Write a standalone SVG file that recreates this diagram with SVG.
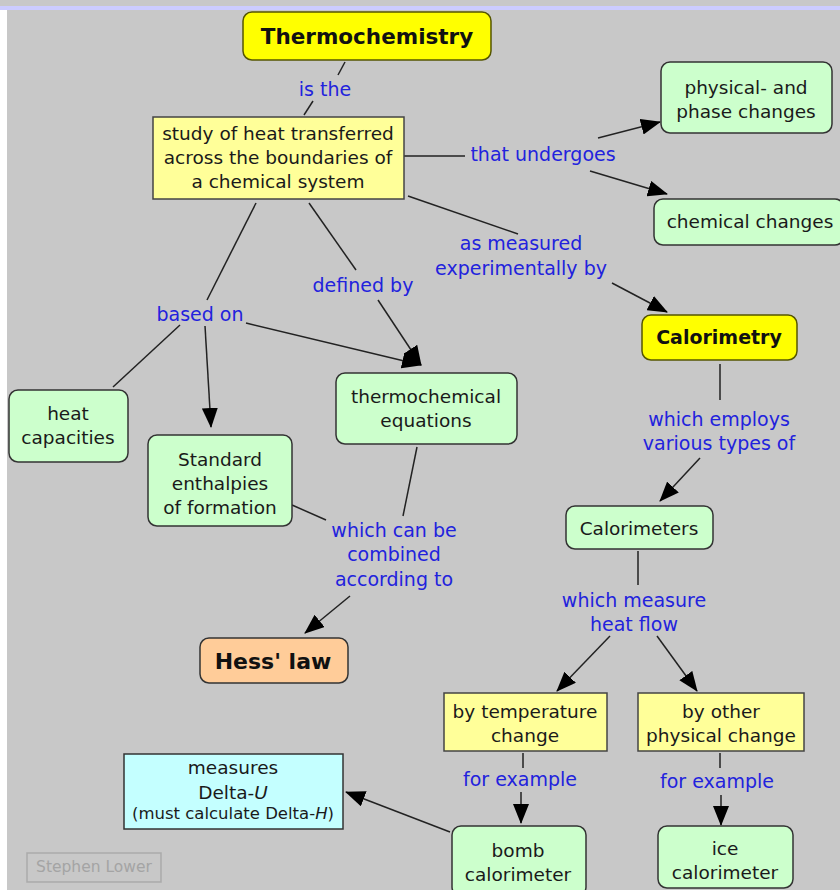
<svg xmlns="http://www.w3.org/2000/svg" width="840" height="890" viewBox="0 0 840 890">
<style>
text{font-family:"DejaVu Sans",Verdana,sans-serif;text-anchor:middle;dominant-baseline:central}
.n{font-size:18.5px;fill:#1a1a1a}
.b{font-size:21.5px;font-weight:bold;fill:#111}
.l{font-size:19px;fill:#2222dd}
.g{fill:#ccffcc;stroke:#333;stroke-width:1.5}
.y{fill:#ffff00;stroke:#555500;stroke-width:1.5}
.p{fill:#ffff99;stroke:#444;stroke-width:1.5}
.c line{stroke:#222;stroke-width:1.5}
.a{marker-end:url(#ah)}
</style>
<defs>
<marker id="ah" markerUnits="userSpaceOnUse" markerWidth="20" markerHeight="16" viewBox="0 0 20 16" refX="19" refY="8" orient="auto">
<path d="M0,0 L20,8 L0,16 z" fill="#000"/>
</marker>
</defs>
<rect x="0" y="0" width="840" height="890" fill="#c8c8c8"/>
<rect x="0" y="6" width="840" height="4" fill="#ccccff"/>
<rect x="0" y="10" width="7" height="880" fill="#ffffff"/>

<g class="c">
<line x1="345" y1="62" x2="338" y2="75"/>
<line x1="313" y1="101" x2="304" y2="115"/>
<line x1="404" y1="156" x2="465" y2="156"/>
<line class="a" x1="598" y1="138" x2="660" y2="122"/>
<line class="a" x1="590" y1="171" x2="667" y2="194"/>
<line x1="408" y1="196" x2="518" y2="234"/>
<line class="a" x1="612" y1="283" x2="667" y2="312"/>
<line x1="720" y1="364" x2="720" y2="400"/>
<line class="a" x1="700" y1="458" x2="660" y2="501"/>
<line x1="638" y1="551" x2="638" y2="585"/>
<line class="a" x1="610" y1="636" x2="557" y2="691"/>
<line class="a" x1="657" y1="636" x2="697" y2="691"/>
<line x1="523" y1="753" x2="523" y2="768"/>
<line class="a" x1="521" y1="792" x2="521" y2="823"/>
<line x1="720" y1="753" x2="720" y2="768"/>
<line class="a" x1="721" y1="795" x2="721" y2="825"/>
<line class="a" x1="450" y1="832" x2="346" y2="792"/>
<line x1="256" y1="203" x2="207" y2="300"/>
<line class="a" x1="205" y1="326" x2="211" y2="427"/>
<line x1="180" y1="325" x2="113" y2="387"/>
<line class="a" x1="246" y1="323" x2="421" y2="365"/>
<line x1="309" y1="203" x2="356" y2="270"/>
<line class="a" x1="378" y1="300" x2="421" y2="365"/>
<line x1="417" y1="447" x2="403" y2="516"/>
<line x1="292" y1="505" x2="326" y2="520"/>
<line class="a" x1="350" y1="596" x2="305" y2="633"/>
</g>

<g id="lbl-isthe"><text class="l" x="325" y="89">is the</text></g>
<g id="lbl-undergoes"><text class="l" x="543" y="154">that undergoes</text></g>
<g id="lbl-measured"><text class="l" x="521" y="243">as measured</text><text class="l" x="521" y="268">experimentally by</text></g>
<g id="lbl-employs"><text class="l" x="719" y="419">which employs</text><text class="l" x="719" y="443">various types of</text></g>
<g id="lbl-heatflow"><text class="l" x="634" y="600">which measure</text><text class="l" x="634" y="624">heat flow</text></g>
<g id="lbl-ex1"><text class="l" x="520" y="779">for example</text></g>
<g id="lbl-ex2"><text class="l" x="717" y="781">for example</text></g>
<g id="lbl-based"><text class="l" x="200" y="314">based on</text></g>
<g id="lbl-defined"><text class="l" x="363" y="285">defined by</text></g>
<g id="lbl-combined"><text class="l" x="394" y="530">which can be</text><text class="l" x="394" y="554">combined</text><text class="l" x="394" y="579">according to</text></g>

<g id="thermochemistry"><rect class="y" x="243" y="12" width="248" height="48" rx="9"/><text class="b" x="367" y="36">Thermochemistry</text></g>
<g id="study"><rect class="p" x="153" y="117" width="251" height="82"/><text class="n" x="278" y="133">study of heat transferred</text><text class="n" x="278" y="157">across the boundaries of</text><text class="n" x="278" y="181">a chemical system</text></g>
<g id="physical"><rect class="g" x="661" y="62" width="171" height="71" rx="9"/><text class="n" x="746" y="87">physical- and</text><text class="n" x="746" y="111">phase changes</text></g>
<g id="chemical"><rect class="g" x="654" y="199" width="190" height="46" rx="9"/><text class="n" x="750" y="221">chemical changes</text></g>
<g id="calorimetry"><rect class="y" x="642" y="315" width="155" height="45" rx="9"/><text class="b" x="719" y="337" style="font-size:19px">Calorimetry</text></g>
<g id="calorimeters"><rect class="g" x="566" y="506" width="147" height="43" rx="9"/><text class="n" x="639" y="528">Calorimeters</text></g>
<g id="bytemp"><rect class="p" x="444" y="693" width="163" height="58"/><text class="n" x="525" y="711">by temperature</text><text class="n" x="525" y="735">change</text></g>
<g id="byother"><rect class="p" x="638" y="693" width="166" height="58"/><text class="n" x="721" y="711">by other</text><text class="n" x="721" y="735">physical change</text></g>
<g id="bomb"><rect class="g" x="452" y="826" width="134" height="70" rx="9"/><text class="n" x="518" y="850">bomb</text><text class="n" x="518" y="874">calorimeter</text></g>
<g id="ice"><rect class="g" x="658" y="826" width="135" height="62" rx="9"/><text class="n" x="725" y="848">ice</text><text class="n" x="725" y="872">calorimeter</text></g>
<g id="measures"><rect x="124" y="754" width="219" height="75" fill="#c4ffff" stroke="#333" stroke-width="1.5"/><text class="n" x="233" y="767">measures</text><text class="n" x="233" y="792">Delta-<tspan font-style="italic">U</tspan></text><text class="n" x="233" y="813" style="font-size:16.5px">(must calculate Delta-<tspan font-style="italic">H</tspan>)</text></g>
<g id="heatcap"><rect class="g" x="9" y="390" width="119" height="72" rx="9"/><text class="n" x="68" y="413">heat</text><text class="n" x="68" y="437">capacities</text></g>
<g id="standard"><rect class="g" x="148" y="435" width="144" height="91" rx="9"/><text class="n" x="220" y="459">Standard</text><text class="n" x="220" y="483">enthalpies</text><text class="n" x="220" y="507">of formation</text></g>
<g id="equations"><rect class="g" x="336" y="373" width="181" height="71" rx="9"/><text class="n" x="426" y="396">thermochemical</text><text class="n" x="426" y="420">equations</text></g>
<g id="hess"><rect x="200" y="638" width="148" height="45" rx="9" fill="#ffcc99" stroke="#333" stroke-width="1.5"/><text class="b" x="273" y="661" style="font-size:22px">Hess' law</text></g>
<g id="credit"><rect x="27" y="853" width="134" height="29" fill="none" stroke="#aaaaaa" stroke-width="1.5"/><text x="94" y="867" style="font-size:15.5px;fill:#a4a4a4">Stephen Lower</text></g>
</svg>
